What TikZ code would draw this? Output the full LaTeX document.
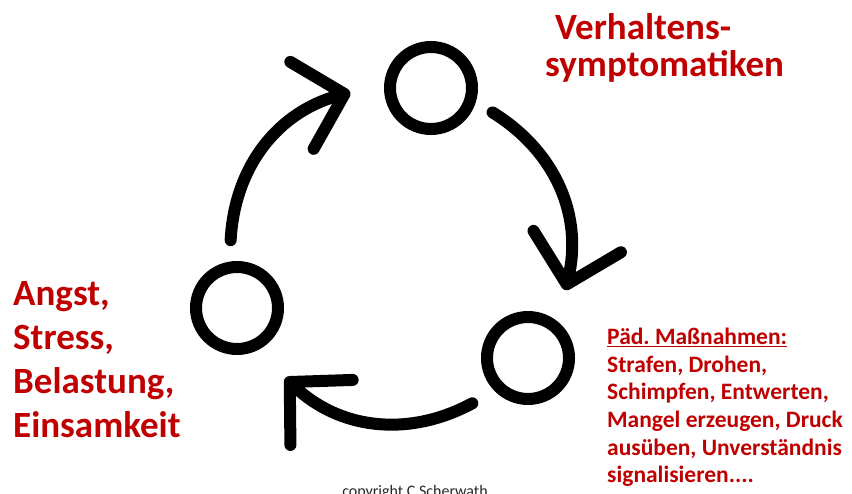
\documentclass[tikz,border=0pt]{standalone}
\usepackage{fontspec}
\setmainfont{Carlito}
\usepackage{tikz}
\usetikzlibrary{arrows.meta,calc}
\definecolor{darkred}{HTML}{C00000}
\frenchspacing

\begin{document}
\begin{tikzpicture}[x=1pt, y=1pt,
  ring/.style={draw, line width=12pt, circle, minimum size=82pt, inner sep=0pt},
  cyc/.style={line width=12pt, line cap=round,
    -{Straight Barb[length=44pt, width=90pt, round]}},
  redtext/.style={text=darkred, font=\bfseries\fontsize{37}{44}\selectfont,
    align=left, inner sep=0pt, anchor=north west}
]
  \useasboundingbox (0,0) rectangle (852,493);
  \coordinate (mid) at (400,238);

  % Circles
  \node[ring] (top) at (431,405) {};
  \node[ring] (left) at (237,185) {};
  \node[ring] (right) at (528,135) {};

  % Arrow ends on the big circle
  \coordinate (a1s) at ($(mid)+(175:170)$);
  \coordinate (a1e) at ($(mid)+(107:170)$);
  \coordinate (a2s) at ($(mid)+(57:170)$);
  \coordinate (a2e) at ($(mid)+(-12:169)$);
  \coordinate (a3s) at ($(mid)+(-64:165)$);
  \coordinate (a3e) at ($(mid)+(-133:168)$);

  % Arrows
  \draw[cyc] (a1s) to[bend left=36] (a1e);
  \draw[cyc] (a2s) to[bend left=36] (a2e);
  \draw[cyc] (a3s) to[bend left=36] (a3e);

  % Labels
  \node[redtext, font=\bfseries\fontsize{37}{37}\selectfont] (behav) at (545,480)
    {\hspace*{10pt}Verhaltens-\\symptomatiken};
  \node[redtext] (fear) at (13,212) {Angst,\\Stress,\\Belastung,\\Einsamkeit};
  \node[redtext, font=\bfseries\fontsize{23.5}{27.6}\selectfont] (measures) at (607,165)
    {\underline{Päd. Maßnahmen:}\\Strafen, Drohen,\\Schimpfen, Entwerten,\\Mangel erzeugen, Druck\\ausüben, Unverständnis\\signalisieren....};
  \node[anchor=base, font=\fontsize{16}{16}\selectfont, text=black!85] (copy) at (415,-3)
    {copyright C Scherwath};
\end{tikzpicture}
\end{document}
